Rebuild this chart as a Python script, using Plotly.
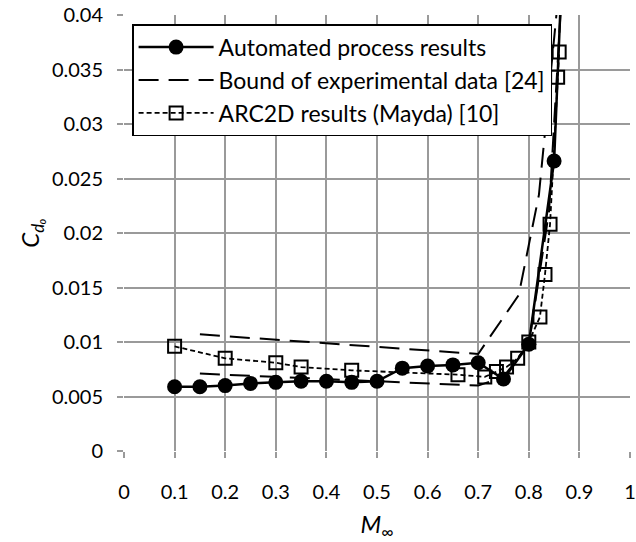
import plotly.graph_objects as go

# Zero-lift drag coefficient vs free-stream Mach number
auto_mach = [0.10, 0.15, 0.20, 0.25, 0.30, 0.35, 0.40, 0.45, 0.50, 0.55, 0.60, 0.65, 0.70, 0.75, 0.80, 0.85, 0.87]
auto_cd = [0.0059, 0.0059, 0.0060, 0.0062, 0.0063, 0.0064, 0.0064, 0.0063, 0.0064, 0.0076, 0.0078, 0.0079, 0.0081, 0.0066, 0.0098, 0.0266, 0.0490]

upper_mach = [0.15, 0.70, 0.78, 0.82, 0.865]
upper_cd = [0.0107, 0.0089, 0.0143, 0.0235, 0.0450]

lower_mach = [0.15, 0.70, 0.75, 0.80, 0.84, 0.865]
lower_cd = [0.0071, 0.0060, 0.0068, 0.0098, 0.0220, 0.0420]

arc_mach = [0.10, 0.20, 0.30, 0.35, 0.45, 0.66, 0.713, 0.736, 0.756, 0.778, 0.80, 0.822, 0.832, 0.842, 0.857, 0.860]
arc_cd = [0.0096, 0.0085, 0.0081, 0.0077, 0.0074, 0.0070, 0.0068, 0.0073, 0.0077, 0.0085, 0.0100, 0.0123, 0.0162, 0.0208, 0.0343, 0.0366]

x_ticks = [0, 0.1, 0.2, 0.3, 0.4, 0.5, 0.6, 0.7, 0.8, 0.9, 1]
x_labels = ["0", "0.1", "0.2", "0.3", "0.4", "0.5", "0.6", "0.7", "0.8", "0.9", "1"]
y_ticks = [0, 0.005, 0.01, 0.015, 0.02, 0.025, 0.03, 0.035, 0.04]
y_labels = ["0", "0.005", "0.01", "0.015", "0.02", "0.025", "0.03", "0.035", "0.04"]

FONT = "Lato, Open Sans, sans-serif"
GRID = "#9a9a9a"
TICK_FS = 20
LEGEND_FS = 23

fig = go.Figure()

fig.add_trace(go.Scatter(
    x=auto_mach, y=auto_cd, mode="lines+markers",
    name="Automated process results",
    line=dict(color="black", width=2.5),
    marker=dict(symbol="circle", size=15, color="black"),
))

fig.add_trace(go.Scatter(
    x=upper_mach, y=upper_cd, mode="lines",
    name="Bound of experimental data [24]",
    line=dict(color="black", width=2, dash="20px,10px"),
    legendgroup="bound",
))

fig.add_trace(go.Scatter(
    x=lower_mach, y=lower_cd, mode="lines",
    name="Bound of experimental data [24]",
    line=dict(color="black", width=2, dash="20px,10px"),
    legendgroup="bound", showlegend=False,
))

fig.add_trace(go.Scatter(
    x=arc_mach, y=arc_cd, mode="lines+markers",
    name="ARC2D results (Mayda) [10]",
    line=dict(color="black", width=1.8, dash="5px,3px"),
    marker=dict(symbol="square-open", size=13, color="black",
                line=dict(width=2, color="black")),
))

fig.update_layout(
    width=636, height=542,
    margin=dict(l=124, r=6, t=15, b=91),
    paper_bgcolor="white", plot_bgcolor="white",
    font=dict(family=FONT, size=TICK_FS, color="black"),
    showlegend=True,
    legend=dict(
        x=0.016, y=0.979, xanchor="left", yanchor="top",
        bgcolor="white", bordercolor="black", borderwidth=1.5,
        font=dict(family=FONT, size=LEGEND_FS, color="black"),
        tracegroupgap=0, itemwidth=75,
    ),
)

fig.update_xaxes(
    range=[0, 1], tickvals=x_ticks, ticktext=x_labels,
    showgrid=True, gridcolor=GRID, gridwidth=1.5,
    zeroline=False, showline=False, automargin=False,
    ticks="outside", ticklen=6, tickcolor=GRID, tickwidth=1.5,
    ticklabelstandoff=17, ticklabeloverflow="allow",
    title=dict(text="<i>M</i><sub>∞</sub>", standoff=14),
)

fig.update_yaxes(
    range=[0, 0.04], tickvals=y_ticks, ticktext=y_labels,
    showgrid=True, gridcolor=GRID, gridwidth=1.5,
    zeroline=False, showline=False, automargin=False,
    ticks="outside", ticklen=6, tickcolor=GRID, tickwidth=1.5,
    ticklabelstandoff=10,
    title=dict(text="<i>C<sub>d₀</sub></i>", standoff=5),
)

fig.write_html("out.html")
